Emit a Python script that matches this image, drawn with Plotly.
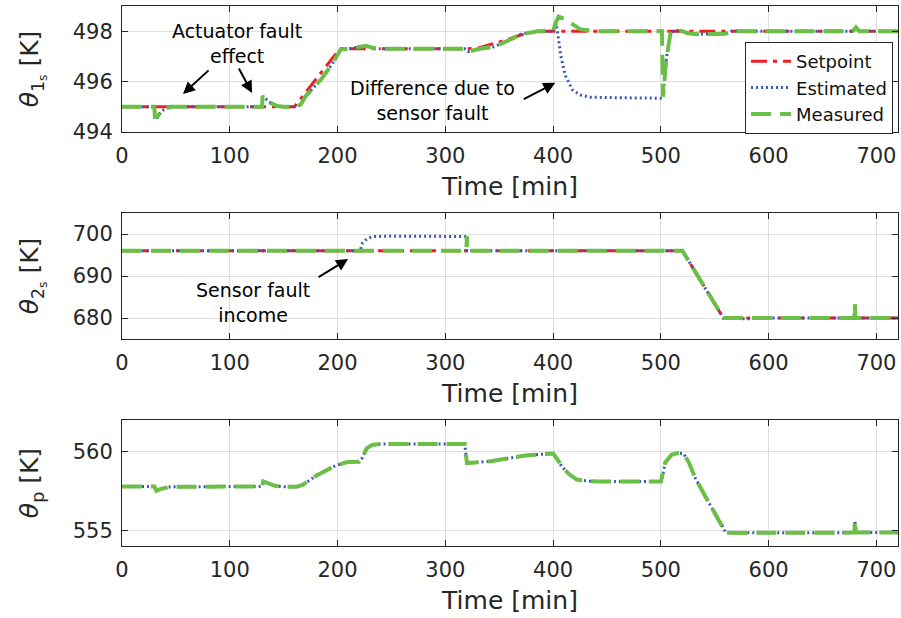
import plotly.graph_objects as go

# ---------------- data ----------------
# Plot 1: theta_1s
t1_sp = [0, 160, 202, 320, 330, 354, 370, 386, 720]
y1_sp = [495, 495, 497.3, 497.3, 497.33, 497.62, 497.85, 498, 498]

t1_me = [0, 30, 30.5, 33, 36, 40, 45, 130, 130.5, 134, 138, 144, 150, 162, 166, 170, 185, 195, 203,
         210, 218, 226, 234, 240, 318, 321, 332, 345, 360, 370, 386, 400, 402, 405, 410, 418, 425,
         435, 445, 501, 502, 505, 509, 513, 518, 525, 534, 560, 565, 678, 681, 684, 720]
y1_me = [495, 495, 494.6, 494.62, 494.8, 494.92, 495, 495, 495.42, 495.3, 495.15, 495.03, 495, 495,
         495.1, 495.4, 496.1, 496.7, 497.28, 497.3, 497.35, 497.42, 497.33, 497.3, 497.3, 497.19,
         497.3, 497.38, 497.66, 497.88, 498, 498, 498.3, 498.58, 498.5, 498.25, 498.08, 498.02, 498,
         498, 495.4, 496.9, 497.94, 498.03, 498.02, 497.92, 497.88, 497.9, 498, 498, 498.15, 498, 498]

t1_es = [0, 30, 30.5, 33, 36, 40, 45, 130, 130.5, 134, 138, 144, 150, 162, 166, 170, 185, 195, 203,
         210, 218, 226, 234, 240, 318, 321, 332, 345, 360, 370, 386, 400, 403, 407, 411, 418, 425,
         434, 460, 501, 502, 505, 509, 513, 518, 525, 534, 560, 565, 678, 681, 684, 720]
y1_es = [495, 495, 494.55, 494.58, 494.8, 494.92, 495, 495, 495.42, 495.3, 495.15, 495.03, 495, 495,
         495.1, 495.4, 496.1, 496.7, 497.28, 497.3, 497.35, 497.42, 497.33, 497.3, 497.3, 497.19,
         497.3, 497.38, 497.66, 497.88, 498, 498, 498.3, 497.06, 496.27, 495.67, 495.47, 495.38,
         495.36, 495.34, 495.4, 496.9, 497.94, 498.03, 498.02, 497.92, 497.88, 497.9, 498, 498, 498.1,
         498, 498]

# Plot 2: theta_2s
t2_sp = [0, 520, 558, 720]
y2_sp = [696, 696, 680, 680]

t2_es = [0, 221, 223, 227, 233, 250, 319.5, 320, 520, 558, 581, 590, 720]
y2_es = [696, 696, 697.8, 698.8, 699.4, 699.5, 699.4, 696, 696, 680, 679.8, 680, 680]

t2_me = [0, 319.5, 320, 320.5, 520, 558, 679.5, 680, 680.5, 720]
y2_me = [696, 696, 699.5, 696, 696, 680, 680, 683.3, 680, 680]

# Plot 3: theta_p
t3_me = [0, 30, 32, 36, 45, 130, 131, 136, 142, 150, 162, 168, 181, 198, 209, 220, 223, 227, 232,
         240, 318, 320, 342, 376, 394, 400, 404, 408, 415, 422, 432, 441, 500, 502, 504, 510, 516,
         521, 526, 532, 544, 557, 560, 580, 590, 679.5, 680, 681, 720]
y3_me = [557.78, 557.78, 557.5, 557.62, 557.76, 557.78, 558.1, 557.95, 557.82, 557.76, 557.76,
         557.9, 558.5, 559.1, 559.33, 559.35, 559.6, 560.2, 560.42, 560.48, 560.48, 559.27, 559.38,
         559.76, 559.87, 559.87, 559.5, 559.05, 558.55, 558.22, 558.12, 558.1, 558.1, 558.6, 559.3,
         559.8, 559.9, 559.87, 559.3, 558.3, 556.8, 555.3, 554.85, 554.82, 554.84, 554.85, 555.6,
         554.85, 554.85]
t3_es = list(t3_me)
y3_es = list(y3_me)

x_ticks = [0, 100, 200, 300, 400, 500, 600, 700]
y1_ticks = [494, 496, 498]
y2_ticks = [680, 690, 700]
y3_ticks = [555, 560]

# ---------------- style ----------------
RED = "#ee1d23"
BLUE = "#3c58b4"
GREEN = "#6bbf47"
FONT = "DejaVu Sans"

fig = go.Figure()

def add_series(t, y, ax_idx, color, dash, width, name, show):
    fig.add_trace(go.Scatter(
        x=t, y=y, mode="lines", name=name, showlegend=show, legendgroup=name,
        line=dict(color=color, dash=dash, width=width),
        xaxis="x" if ax_idx == 1 else f"x{ax_idx}",
        yaxis="y" if ax_idx == 1 else f"y{ax_idx}",
    ))

SP_DASH = "16px,6px,4px,6px"
ES_DASH = "2px,3px"
ME_DASH = "20px,9px"

add_series(t1_sp, y1_sp, 1, RED, SP_DASH, 3, "Setpoint", True)
add_series(t1_es, y1_es, 1, BLUE, ES_DASH, 3, "Estimated", True)
add_series(t1_me, y1_me, 1, GREEN, ME_DASH, 4, "Measured", True)

add_series(t2_sp, y2_sp, 2, RED, SP_DASH, 3, "Setpoint", False)
add_series(t2_es, y2_es, 2, BLUE, ES_DASH, 3, "Estimated", False)
add_series(t2_me, y2_me, 2, GREEN, ME_DASH, 4, "Measured", False)

add_series(t3_es, y3_es, 3, BLUE, ES_DASH, 3, "Estimated", False)
add_series(t3_me, y3_me, 3, GREEN, ME_DASH, 4, "Measured", False)

axis_common = dict(
    showline=True, linecolor="#262626", linewidth=1, mirror="ticks",
    ticks="inside", ticklen=6, tickcolor="#262626",
    showgrid=True, gridcolor="#dedede", gridwidth=1, zeroline=False,
    tickfont=dict(family=FONT, size=21, color="#262626"),
)

H = 540.0
doms = [(1 - 126 / H, 1.0), (1 - 333 / H, 1 - 207 / H), (0.0, 126 / H)]
yranges = [[494, 499], [675, 705], [554, 562]]
yticks = [y1_ticks, y2_ticks, y3_ticks]
ytitles = ["<i>θ</i><sub>1<sub>s</sub></sub> [K]",
           "<i>θ</i><sub>2<sub>s</sub></sub> [K]",
           "<i>θ</i><sub>p</sub> [K]"]

layout = dict(
    width=901, height=618,
    margin=dict(l=122, r=3, t=6, b=72),
    paper_bgcolor="white", plot_bgcolor="white",
    font=dict(family=FONT, color="#262626"),
    legend=dict(x=0.9936, y=1 - 36 / H, xanchor="right", yanchor="top",
                bgcolor="white", bordercolor="#262626", borderwidth=1,
                font=dict(family=FONT, size=18, color="#111"),
                tracegroupgap=0, itemwidth=40),
    showlegend=True,
)
for i in range(3):
    k = "" if i == 0 else str(i + 1)
    layout[f"xaxis{k}"] = dict(
        axis_common, domain=[0, 1], range=[0, 720], tickvals=x_ticks,
        anchor=f"y{k}", ticklabelstandoff=5,
        title=dict(text="Time [min]", font=dict(family=FONT, size=25, color="#262626"), standoff=10),
    )
    layout[f"yaxis{k}"] = dict(
        axis_common, domain=list(doms[i]), range=yranges[i], tickvals=yticks[i],
        anchor=f"x{k}", ticklabelstandoff=4,
        title=dict(text=ytitles[i], font=dict(family=FONT, size=25, color="#262626"), standoff=26),
    )
fig.update_layout(**layout)

def arrow(xref, yref, hx, hy, tx, ty):
    fig.add_annotation(x=hx, y=hy, ax=tx, ay=ty, xref=xref, yref=yref, axref=xref, ayref=yref,
                       text="", showarrow=True, arrowhead=2, arrowsize=1.2, arrowwidth=2,
                       arrowcolor="black", standoff=0, startstandoff=0)

def label(xref, yref, x, y, txt):
    fig.add_annotation(x=x, y=y, xref=xref, yref=yref, text=txt, showarrow=False,
                       font=dict(family=FONT, size=19, color="black"), align="center")

label("x", "y", 106.8, 497.5, "Actuator fault<br>effect")
arrow("x", "y", 56.6, 495.51, 81.7, 496.5)
arrow("x", "y", 120.7, 495.55, 107.7, 496.58)
label("x", "y", 287.8, 495.27, "Difference due to<br>sensor fault")
arrow("x", "y", 402, 495.95, 371.4, 495.27)
label("x2", "y2", 121.6, 683.6, "Sensor fault<br>income")
arrow("x2", "y2", 209.8, 694.05, 181, 689.5)

fig.write_html("out.html")
